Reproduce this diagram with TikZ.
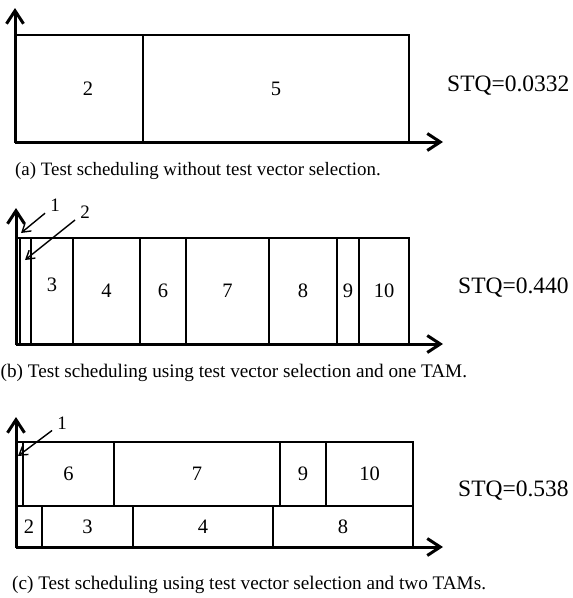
\documentclass[tikz,border=0pt]{standalone}
\usepackage{fontspec}
\setmainfont{Liberation Serif}
\usetikzlibrary{arrows.meta}
\begin{document}
\begin{tikzpicture}[x=1pt,y=-1pt,
  blk/.style={draw,line width=2.9pt,inner sep=0pt,outer sep=0pt,anchor=north west,font=\fontsize{20.5}{24}\selectfont},
  axisline/.style={line width=3pt,-{Straight Barb[length=13pt,width=17pt]}},
  ptr/.style={line width=1.4pt,-{Straight Barb[length=8pt,width=10pt]}},
  stq/.style={anchor=west,inner sep=0pt,font=\fontsize{23.5}{28}\selectfont},
  captxt/.style={inner sep=0pt,font=\fontsize{19.2}{22}\selectfont},
  numlbl/.style={inner sep=5pt,font=\fontsize{19}{22}\selectfont}]
\useasboundingbox (0,0) rectangle (573,598);

% ---------- panel (a)
\coordinate (aO) at (15,142);
\coordinate (aY) at (15,8);
\coordinate (aX) at (443,142);
\node[blk,minimum width=128pt,minimum height=107pt] (a2) at (15,35) {\hspace{18pt}2};
\node[blk,minimum width=266pt,minimum height=107pt] (a5) at (143,35) {5};
\draw[axisline] (aO) -- (aY);
\draw[axisline] (aO) -- (aX);
\node[stq] (aS) at (447,86) {STQ=0.0332};
\node[captxt,anchor=west,font=\fontsize{18.9}{22}\selectfont] (aC) at (15,171) {(a) Test scheduling without test vector selection.};

% ---------- panel (b)
\coordinate (bO) at (16,344);
\coordinate (bY) at (16,208);
\coordinate (bX) at (443,344);
\node[blk,line width=1.8pt,minimum width=4pt,minimum height=106pt] (b1) at (16,238) {};
\node[blk,line width=1.8pt,minimum width=11pt,minimum height=106pt] (b2) at (20,238) {};
\node[blk,minimum width=42pt,minimum height=106pt] (b3) at (31,238) {\raisebox{12pt}{3}};
\node[blk,minimum width=67pt,minimum height=106pt] (b4) at (73,238) {4};
\node[blk,minimum width=46pt,minimum height=106pt] (b6) at (140,238) {6};
\node[blk,minimum width=83pt,minimum height=106pt] (b7) at (186,238) {7};
\node[blk,minimum width=68pt,minimum height=106pt] (b8) at (269,238) {8};
\node[blk,minimum width=22pt,minimum height=106pt] (b9) at (337,238) {9};
\node[blk,minimum width=50pt,minimum height=106pt] (b10) at (359,238) {10};
\draw[axisline] (bO) -- (bY);
\draw[axisline] (bO) -- (bX);
\node[numlbl] (bl1) at (55,205) {1};
\node[numlbl] (bl2) at (85,212) {2};
\coordinate (bt1) at (21,233);
\coordinate (bt2) at (25,260);
\draw[ptr] (bl1) -- (bt1);
\draw[ptr] (bl2) -- (bt2);
\node[stq] (bS) at (458,288) {STQ=0.440};
\node[captxt,anchor=west] (bC) at (0.5,373) {(b) Test scheduling using test vector selection and one TAM.};

% ---------- panel (c)
\coordinate (cO) at (16,547);
\coordinate (cY) at (16,417);
\coordinate (cX) at (443,547);
\node[blk,minimum width=7pt,minimum height=64pt] (c1) at (16,442) {};
\node[blk,minimum width=91pt,minimum height=64pt] (c6) at (23,442) {6};
\node[blk,minimum width=166pt,minimum height=64pt] (c7) at (114,442) {7};
\node[blk,minimum width=46pt,minimum height=64pt] (c9) at (280,442) {9};
\node[blk,minimum width=87pt,minimum height=64pt] (c10) at (326,442) {10};
\node[blk,minimum width=26pt,minimum height=41pt] (c2) at (16,506) {2};
\node[blk,minimum width=91pt,minimum height=41pt] (c3) at (42,506) {3};
\node[blk,minimum width=140pt,minimum height=41pt] (c4) at (133,506) {4};
\node[blk,minimum width=140pt,minimum height=41pt] (c8) at (273,506) {8};
\draw[axisline] (cO) -- (cY);
\draw[axisline] (cO) -- (cX);
\node[numlbl] (cl1) at (62,423) {1};
\coordinate (ct1) at (18,456);
\draw[ptr] (cl1) -- (ct1);
\node[stq] (cS) at (458,491) {STQ=0.538};
\node[captxt,anchor=west] (cC) at (12,585) {(c) Test scheduling using test vector selection and two TAMs.};
\end{tikzpicture}
\end{document}
